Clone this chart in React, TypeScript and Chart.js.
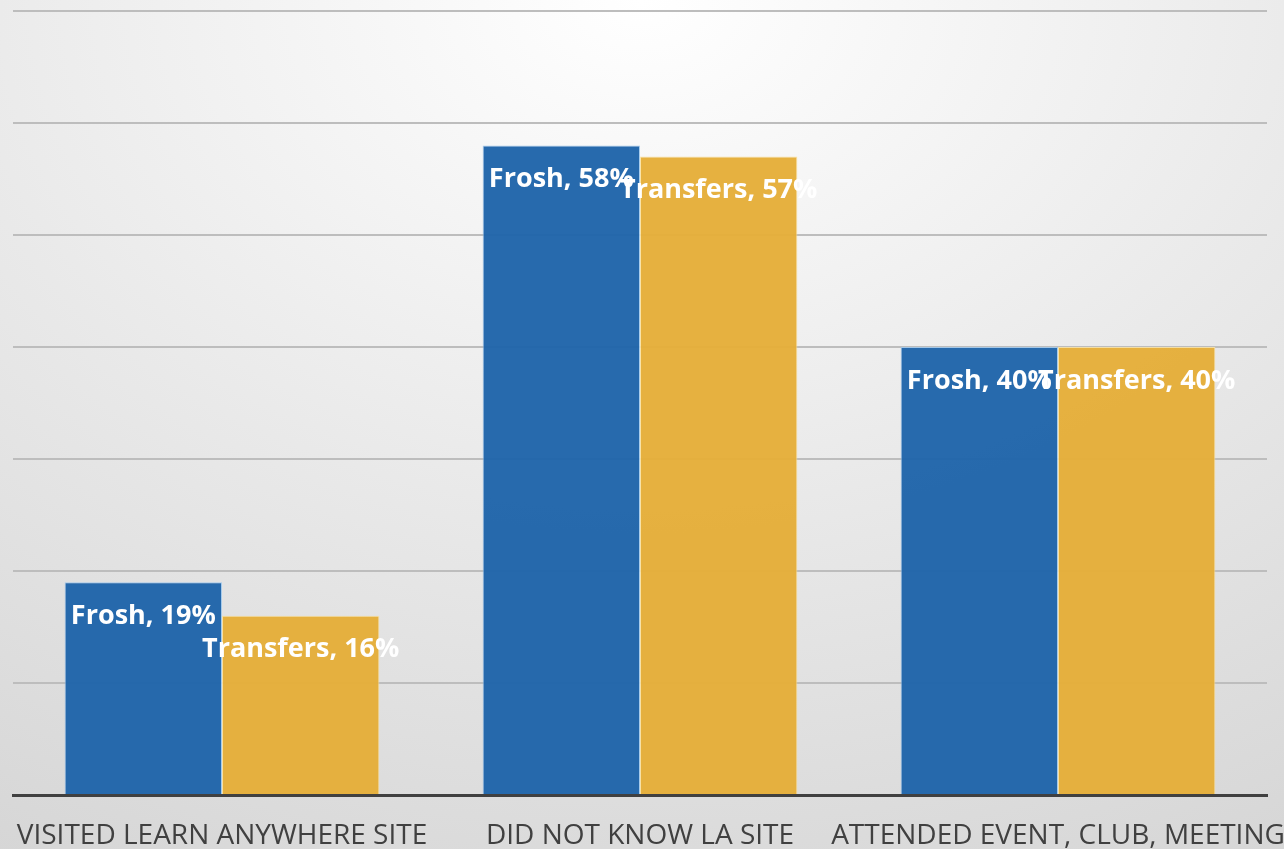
import React, { useEffect, useRef } from "react";
import { Chart, registerables } from "chart.js";

Chart.register(...registerables);

const categories = ["VISITED LEARN ANYWHERE SITE", "DID NOT KNOW LA SITE", "ATTENDED EVENT, CLUB, MEETING"];
const seriesNames = ["Frosh", "Transfers"];
const froshValues = [19, 58, 40];
const transferValues = [16, 57, 40];
const yTicks = [0, 10, 20, 30, 40, 50, 60, 70];

const labelPlugin = {
  id: "barLabels",
  afterDatasetsDraw(chart: any) {
    const ctx = chart.ctx;
    ctx.save();
    ctx.fillStyle = "#ffffff";
    ctx.font = "bold 27px 'Open Sans', sans-serif";
    ctx.textAlign = "center";
    ctx.textBaseline = "middle";
    chart.data.datasets.forEach((ds: any, di: number) => {
      const meta = chart.getDatasetMeta(di);
      meta.data.forEach((bar: any, i: number) => {
        ctx.fillText(`${ds.label}, ${ds.data[i]}%`, bar.x, bar.y + 34);
      });
    });
    ctx.restore();
  },
};

export default function App() {
  const ref = useRef<HTMLCanvasElement>(null);
  useEffect(() => {
    if (!ref.current) return;
    const chart = new Chart(ref.current, {
      type: "bar",
      data: {
        labels: categories,
        datasets: [
          {
            label: seriesNames[0],
            data: froshValues,
            backgroundColor: "rgba(30,100,170,0.96)",
            borderColor: "rgba(160,200,235,0.9)",
            borderWidth: 1,
          },
          {
            label: seriesNames[1],
            data: transferValues,
            backgroundColor: "rgba(229,174,56,0.96)",
            borderColor: "rgba(250,225,160,0.9)",
            borderWidth: 1,
          },
        ],
      },
      options: {
        animation: false,
        responsive: false,
        maintainAspectRatio: false,
        layout: { padding: { left: 13, right: 17, top: 11, bottom: 0 } },
        datasets: { bar: { categoryPercentage: 0.753, barPercentage: 1 } },
        plugins: { legend: { display: false }, tooltip: { enabled: false } },
        scales: {
          x: {
            grid: { display: false },
            border: { display: true, color: "#404040", width: 3 },
            ticks: {
              color: "#404040",
              font: { family: "'Open Sans', sans-serif", size: 28 },
              padding: 16,
              maxRotation: 0,
              autoSkip: false,
            },
            afterFit(scale: any) {
              scale.height = 54;
              scale.paddingLeft = 0;
              scale.paddingRight = 0;
            },
          },
          y: {
            min: yTicks[0],
            max: yTicks[yTicks.length - 1],
            afterBuildTicks(scale: any) {
              scale.ticks = yTicks.map((v) => ({ value: v }));
            },
            ticks: { display: false },
            grid: { color: "#bdbdbd", lineWidth: 2, drawTicks: false },
            border: { display: false },
            afterFit(scale: any) {
              scale.width = 0;
              scale.paddingTop = 0;
              scale.paddingBottom = 0;
            },
          },
        },
      },
      plugins: [labelPlugin],
    });
    return () => chart.destroy();
  }, []);
  return (
    <div
      style={{
        position: "fixed",
        left: 0,
        top: 0,
        width: 1284,
        height: 849,
        background: "radial-gradient(ellipse 110% 120% at 50% 0%, #ffffff 0%, #e9e9e9 50%, #d4d4d4 100%)",
      }}
    >
      <canvas ref={ref} width={1284} height={849} style={{ display: "block" }} />
    </div>
  );
}
